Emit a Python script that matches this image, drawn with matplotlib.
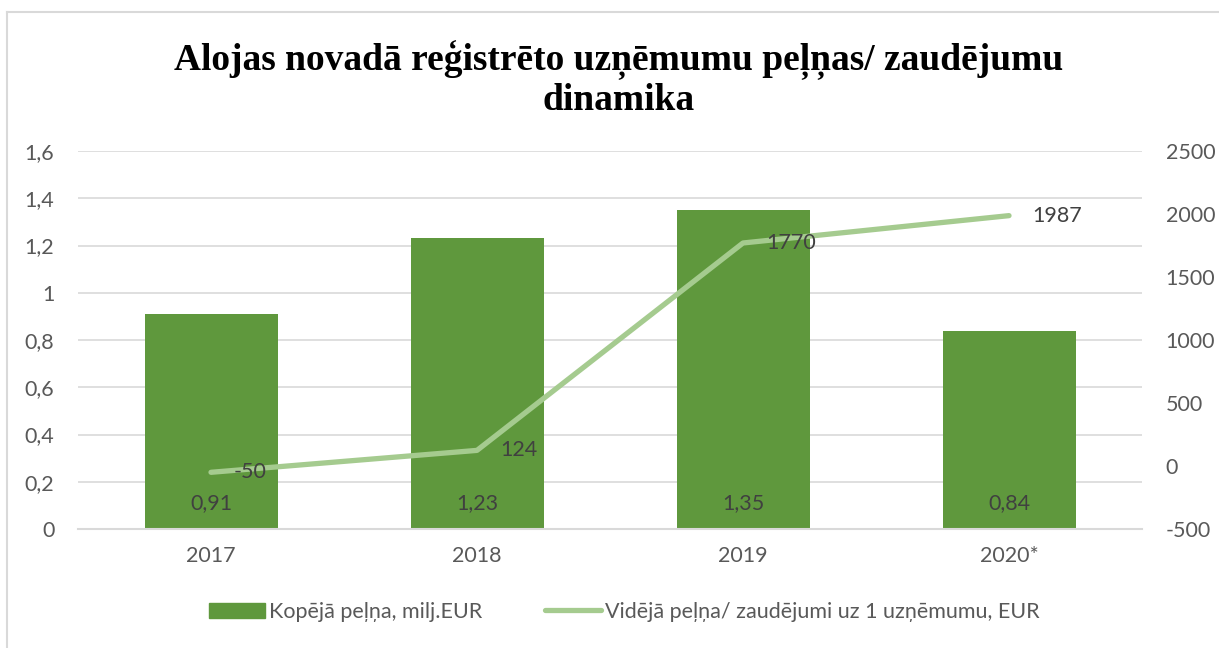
import matplotlib
matplotlib.use('Agg')
import matplotlib.pyplot as plt
from matplotlib.lines import Line2D

years = ['2017', '2018', '2019', '2020*']
total_profit = [0.91, 1.23, 1.35, 0.84]
avg_profit = [-50, 124, 1770, 1987]
left_ticks = [0, 0.2, 0.4, 0.6, 0.8, 1.0, 1.2, 1.4, 1.6]
right_ticks = [-500, 0, 500, 1000, 1500, 2000, 2500]

plt.rcParams['font.family'] = ['Lato', 'DejaVu Sans']
plt.rcParams['axes.unicode_minus'] = False
txt = '#595959'
lbl = '#404040'
bar_col = '#5f983d'
line_col = '#a5cb8f'
fs = 15.5

fig = plt.figure(figsize=(12.19, 6.48), dpi=100)
ax = fig.add_axes([78/1219, 1-529/648, (1142-78)/1219, (529-151)/648])
ax2 = ax.twinx()

x = list(range(len(years)))
ax.bar(x, total_profit, width=0.5, color=bar_col, zorder=2)
ax.set_xlim(-0.5, len(years)-0.5)
ax.set_ylim(0, 1.6)
ax.set_yticks(left_ticks)
ax.set_yticklabels([('%g' % v).replace('.', ',') for v in left_ticks])
ax.set_xticks(x)
ax.set_xticklabels(years)
ax.grid(axis='y', color='#d9d9d9', linewidth=1.2, zorder=0)
ax.set_axisbelow(True)
for s in ['top', 'right', 'left']:
    ax.spines[s].set_visible(False)
ax.spines['bottom'].set_color('#d9d9d9')
ax.spines['bottom'].set_linewidth(1.5)
ax.tick_params(axis='both', length=0, labelsize=fs, colors=txt, pad=12)
ax.tick_params(axis='y', pad=17)

for xi, v in zip(x, total_profit):
    ax.text(xi, 0.11, ('%.2f' % v).replace('.', ','), ha='center', va='center',
            fontsize=fs, color=lbl, zorder=4)

ax2.plot(x, avg_profit, color=line_col, linewidth=3.8, solid_capstyle='round',
         solid_joinstyle='round', zorder=3)
ax2.set_ylim(-500, 2500)
ax2.set_yticks(right_ticks)
for s in ax2.spines.values():
    s.set_visible(False)
ax2.tick_params(axis='y', length=0, labelsize=fs, colors=txt, pad=17)

for xi, v in zip(x, avg_profit):
    ax2.annotate(str(v), (xi, v), xytext=(16.5, 0), textcoords='offset points',
                 ha='left', va='center', fontsize=fs, color=lbl, zorder=5)

fig.text(619/1219, 1-79/648, 'Alojas novadā reģistrēto uzņēmumu peļņas/ zaudējumu\ndinamika',
         ha='center', va='center', fontsize=27, fontweight='bold',
         family='Liberation Serif', linespacing=1.12)

handles = [plt.Rectangle((0, 0), 1, 1, color=bar_col),
           Line2D([0], [0], color=line_col, linewidth=3.8, solid_capstyle='round')]
fig.legend(handles, ['Kopējā peļņa, milj.EUR', 'Vidējā peļņa/ zaudējumi uz 1 uzņēmumu, EUR'],
           loc='center', bbox_to_anchor=(624/1219, 1-612/648), ncol=2, frameon=False,
           fontsize=fs, labelcolor=txt, handlelength=2.6, handletextpad=0.2,
           columnspacing=2.9)

# chart border (top and left edges)
fig.add_artist(Line2D([7/1219, 1], [1-12/648, 1-12/648], color='#d9d9d9', linewidth=1.5))
fig.add_artist(Line2D([7/1219, 7/1219], [0, 1-12/648], color='#d9d9d9', linewidth=1.5))

fig.savefig('out.png', dpi=100, facecolor='white')
